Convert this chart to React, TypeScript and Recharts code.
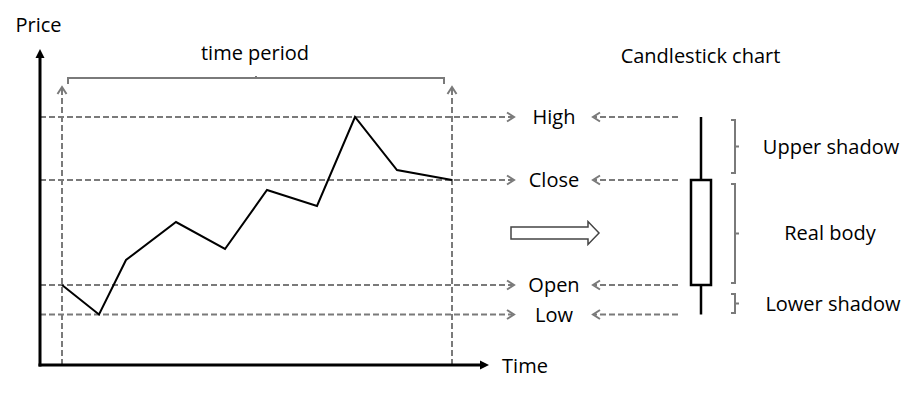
import React from 'react';
import { ComposedChart, Line, XAxis, YAxis, ReferenceLine, ReferenceDot, ReferenceArea } from 'recharts';

// ---- data (time units, price units) ----
const times = [6.2, 9.9, 12.6, 17.6, 22.5, 26.7, 31.7, 35.5, 39.7, 45.2];
const prices = [10.9, 7.95, 13.4, 17.2, 14.5, 20.4, 18.8, 27.7, 22.4, 21.4];

const ohlcNames = ['High', 'Close', 'Open', 'Low'];
const openPrice = prices[0];
const closePrice = prices[prices.length - 1];
const highPrice = Math.max(...prices);
const lowPrice = Math.min(...prices);
const ohlcValues = [highPrice, closePrice, openPrice, lowPrice];

const labelTexts = ['Price', 'time period', 'Candlestick chart', 'Time', 'Upper shadow', 'Real body', 'Lower shadow'];
const labelTimes = [3.85, 25.5, 70.05, 52.5, 83.1, 83.0, 83.3];
const labelPrices = [36.95, 34.1, 33.85, 2.8, 24.7, 16.1, 9.0];

// diagram anchor values (time / price units)
const axisOrigin = { t: 4.0, p: 2.9 };
const axisEnd = { t: 48.9, p: 34.5 };
const leftArrowEnd = 51.4;
const ohlcLabelTime = 55.4;
const rightArrowFrom = 67.8;
const rightArrowTo = 59.3;
const verticalArrowTop = 30.7;
const periodBracket = { t1: 6.8, t2: 44.4, p: 31.6 };
const candleTime = 70.1;
const candleHalfWidth = 1.0;
const bigArrow = { t1: 51.1, t2: 59.9, p: 16.1 };
const bracketTime = 73.5;
const bracketRanges = [
  [27.4, 22.1],
  [21.0, 11.1],
  [10.0, 8.1],
];

const data = times.map((t, i) => ({ t, p: prices[i] }));

const GRAY = '#7a7a7a';
const FONT = "'Open Sans', sans-serif";

const dashedArrow = (p: any) => {
  const { x1, y1, x2, y2 } = p;
  const dx = x2 - x1;
  const dy = y2 - y1;
  const len = Math.hypot(dx, dy) || 1;
  const ux = dx / len;
  const uy = dy / len;
  const hl = 7;
  const hw = 4.5;
  const bx = x2 - ux * hl;
  const by = y2 - uy * hl;
  const px = -uy;
  const py = ux;
  return (
    <g>
      <line x1={x1} y1={y1} x2={x2 - ux * 1.5} y2={y2 - uy * 1.5} stroke={GRAY} strokeWidth={2} strokeDasharray="6 3" />
      <polyline
        points={`${bx + px * hw},${by + py * hw} ${x2},${y2} ${bx - px * hw},${by - py * hw}`}
        fill="none"
        stroke={GRAY}
        strokeWidth={2}
      />
    </g>
  );
};

const axisArrow = (p: any) => {
  const { x1, y1, x2, y2 } = p;
  const dx = x2 - x1;
  const dy = y2 - y1;
  const len = Math.hypot(dx, dy) || 1;
  const ux = dx / len;
  const uy = dy / len;
  const hl = 9;
  const hw = 4.5;
  const bx = x2 - ux * hl;
  const by = y2 - uy * hl;
  const px = -uy;
  const py = ux;
  const sx = x1 - ux * 1.5;
  const sy = y1 - uy * 1.5;
  return (
    <g>
      <line x1={sx} y1={sy} x2={bx + ux} y2={by + uy} stroke="#000" strokeWidth={3} />
      <polygon points={`${bx + px * hw},${by + py * hw} ${x2},${y2} ${bx - px * hw},${by - py * hw}`} fill="#000" />
    </g>
  );
};

const plainLine = (color: string, w: number) => (p: any) => (
  <line x1={p.x1} y1={p.y1} x2={p.x2} y2={p.y2} stroke={color} strokeWidth={w} />
);

const periodBracketShape = (p: any) => {
  const { x1, y1, x2 } = p;
  const mid = (x1 + x2) / 2;
  return (
    <path
      d={`M${x1},${y1 + 6} L${x1},${y1} L${x2},${y1} L${x2},${y1 + 6} M${mid},${y1} L${mid},${y1 - 2}`}
      fill="none"
      stroke={GRAY}
      strokeWidth={2}
    />
  );
};

const sideBracketShape = (p: any) => {
  const { x1, y1, y2 } = p;
  const mid = (y1 + y2) / 2;
  return (
    <path
      d={`M${x1 - 4},${y1} L${x1},${y1} L${x1},${y2} L${x1 - 4},${y2} M${x1},${mid} L${x1 + 4},${mid}`}
      fill="none"
      stroke={GRAY}
      strokeWidth={2}
    />
  );
};

const bigArrowShape = (p: any) => {
  const { x1, x2, y1 } = p;
  const bh = 6;
  const hh = 11.5;
  const hl = 11;
  const pts = [
    [x1, y1 - bh],
    [x2 - hl, y1 - bh],
    [x2 - hl, y1 - hh],
    [x2, y1],
    [x2 - hl, y1 + hh],
    [x2 - hl, y1 + bh],
    [x1, y1 + bh],
  ]
    .map((q) => q.join(','))
    .join(' ');
  return <polygon points={pts} fill="#fff" stroke="#444" strokeWidth={1.5} />;
};

const textShape = (label: string) => (p: any) => (
  <text x={p.cx} y={p.cy} dy={7} textAnchor="middle" fontFamily={FONT} fontSize={20} fill="#000">
    {label}
  </text>
);

export default function App() {
  return (
    <div style={{ position: 'absolute', left: 0, top: 0, background: '#fff' }}>
      <ComposedChart width={920} height={394} data={data} margin={{ top: 0, right: 0, bottom: 0, left: 0 }}>
        <XAxis dataKey="t" type="number" domain={[0, 92]} allowDataOverflow hide />
        <YAxis type="number" domain={[0, 39.4]} allowDataOverflow hide />

        {/* horizontal dashed arrows from axis to labels */}
        {ohlcValues.map((v, i) => (
          <ReferenceLine
            key={`hl${i}`}
            segment={[
              { x: axisOrigin.t, y: v },
              { x: leftArrowEnd, y: v },
            ]}
            shape={dashedArrow}
          />
        ))}
        {/* dashed arrows from candlestick to labels */}
        {ohlcValues.map((v, i) => (
          <ReferenceLine
            key={`hr${i}`}
            segment={[
              { x: rightArrowFrom, y: v },
              { x: rightArrowTo, y: v },
            ]}
            shape={dashedArrow}
          />
        ))}
        {/* vertical dashed arrows marking the period */}
        {[times[0], times[times.length - 1]].map((t, i) => (
          <ReferenceLine
            key={`v${i}`}
            segment={[
              { x: t, y: axisOrigin.p },
              { x: t, y: verticalArrowTop },
            ]}
            shape={dashedArrow}
          />
        ))}

        {/* period bracket */}
        <ReferenceLine
          segment={[
            { x: periodBracket.t1, y: periodBracket.p },
            { x: periodBracket.t2, y: periodBracket.p },
          ]}
          shape={periodBracketShape}
        />

        {/* axes */}
        <ReferenceLine
          segment={[
            { x: axisOrigin.t, y: axisOrigin.p },
            { x: axisOrigin.t, y: axisEnd.p },
          ]}
          shape={axisArrow}
        />
        <ReferenceLine
          segment={[
            { x: axisOrigin.t, y: axisOrigin.p },
            { x: axisEnd.t, y: axisOrigin.p },
          ]}
          shape={axisArrow}
        />

        {/* hollow arrow */}
        <ReferenceLine
          segment={[
            { x: bigArrow.t1, y: bigArrow.p },
            { x: bigArrow.t2, y: bigArrow.p },
          ]}
          shape={bigArrowShape}
        />

        {/* candlestick */}
        <ReferenceLine
          segment={[
            { x: candleTime, y: highPrice },
            { x: candleTime, y: closePrice },
          ]}
          shape={plainLine('#000', 2.5)}
        />
        <ReferenceLine
          segment={[
            { x: candleTime, y: openPrice },
            { x: candleTime, y: lowPrice },
          ]}
          shape={plainLine('#000', 2.5)}
        />
        <ReferenceArea
          x1={candleTime - candleHalfWidth}
          x2={candleTime + candleHalfWidth}
          y1={openPrice}
          y2={closePrice}
          fill="#fff"
          fillOpacity={1}
          stroke="#000"
          strokeWidth={2.5}
        />

        {/* side brackets */}
        {bracketRanges.map((r, i) => (
          <ReferenceLine
            key={`b${i}`}
            segment={[
              { x: bracketTime, y: r[0] },
              { x: bracketTime, y: r[1] },
            ]}
            shape={sideBracketShape}
          />
        ))}

        <Line
          dataKey="p"
          type="linear"
          stroke="#000"
          strokeWidth={2}
          dot={false}
          activeDot={false}
          isAnimationActive={false}
        />

        {/* OHLC labels */}
        {ohlcNames.map((n, i) => (
          <ReferenceDot key={`ol${i}`} x={ohlcLabelTime} y={ohlcValues[i]} r={0} shape={textShape(n)} />
        ))}
        {labelTexts.map((n, i) => (
          <ReferenceDot key={`l${i}`} x={labelTimes[i]} y={labelPrices[i]} r={0} shape={textShape(n)} />
        ))}
      </ComposedChart>
    </div>
  );
}
